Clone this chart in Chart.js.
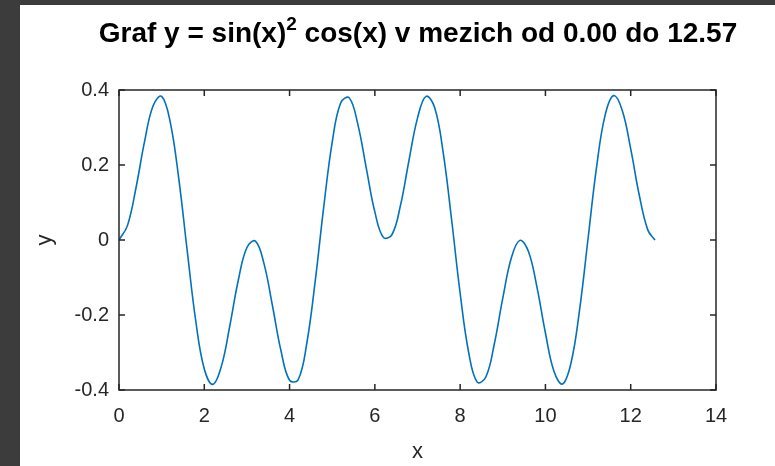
<!DOCTYPE html>
<html>
<head>
<meta charset="utf-8">
<script src="https://cdn.jsdelivr.net/npm/chart.js@4.4.1/dist/chart.umd.min.js"></script>
<style>
    html, body { margin: 0; padding: 0; }
    body { width: 775px; height: 466px; background: #3c3c3c; position: relative; overflow: hidden; }
    #papir { position: absolute; left: 20px; top: 5px; right: 0; bottom: 0; background: #fff; }
    #obal { position: absolute; left: 0; top: 0; width: 775px; height: 466px; }
    #nadpis {
        position: absolute; left: 418px; top: 17px; transform: translateX(-50%);
        white-space: nowrap; font-family: "Liberation Sans", Arial, sans-serif;
        font-weight: bold; font-size: 28px; line-height: 32px; color: #000;
    }
    #nadpis sup { font-size: 19px; line-height: 0; position: relative; top: -2px; }
</style>
</head>
<body>
<div id="papir"></div>
<div id="obal"><canvas id="graf" width="775" height="466"></canvas></div>
<div id="nadpis">Graf y = sin(x)<sup>2</sup> cos(x) v mezich od 0.00 do 12.57</div>
<script>
// Hodnoty (x, y)
const hodnotyX = [0, 0.2, 0.4, 0.6, 0.8, 1.0, 1.2, 1.4, 1.6, 1.8,
    2.0, 2.2, 2.4, 2.6, 2.8, 3.0, 3.2, 3.4, 3.6, 3.8,
    4.0, 4.2, 4.4, 4.6, 4.8, 5.0, 5.2, 5.4, 5.6, 5.8,
    6.0, 6.2, 6.4, 6.6, 6.8, 7.0, 7.2, 7.4, 7.6, 7.8,
    8.0, 8.2, 8.4, 8.6, 8.8, 9.0, 9.2, 9.4, 9.6, 9.8,
    10.0, 10.2, 10.4, 10.6, 10.8, 11.0, 11.2, 11.4, 11.6, 11.8,
    12.0, 12.2, 12.4, 12.57];
const hodnotyY = [0, 0.039, 0.140, 0.263, 0.358, 0.383, 0.315, 0.165, -0.029, -0.216,
    -0.344, -0.385, -0.337, -0.228, -0.106, -0.020, -0.003, -0.063, -0.176, -0.296,
    -0.374, -0.373, -0.278, -0.111, 0.087, 0.261, 0.366, 0.379, 0.309, 0.191,
    0.075, 0.007, 0.014, 0.092, 0.212, 0.325, 0.383, 0.354, 0.235, 0.054,
    -0.142, -0.300, -0.379, -0.366, -0.278, -0.155, -0.048, -0.001, -0.030, -0.125,
    -0.248, -0.350, -0.384, -0.328, -0.187, 0.004, 0.195, 0.333, 0.385, 0.346,
    0.243, 0.120, 0.027, 0];

const znackyX = [0, 2, 4, 6, 8, 10, 12, 14];
const znackyY = [-0.4, -0.2, 0, 0.2, 0.4];

const barvaOsy = '#262626';
const pismo = '"Liberation Sans", Arial, sans-serif';

// Rámeček a značky dovnitř (jako v MATLABu)
const ramecek = {
    id: 'ramecek',
    afterDraw(chart) {
        const { ctx, chartArea: a, scales } = chart;
        const delka = 6;
        ctx.save();
        ctx.strokeStyle = barvaOsy;
        ctx.lineWidth = 1.5;
        ctx.beginPath();
        znackyX.forEach(v => {
            const px = scales.x.getPixelForValue(v);
            ctx.moveTo(px, a.bottom); ctx.lineTo(px, a.bottom - delka);
            ctx.moveTo(px, a.top); ctx.lineTo(px, a.top + delka);
        });
        znackyY.forEach(v => {
            const py = scales.y.getPixelForValue(v);
            ctx.moveTo(a.left, py); ctx.lineTo(a.left + delka, py);
            ctx.moveTo(a.right, py); ctx.lineTo(a.right - delka, py);
        });
        ctx.stroke();
        ctx.strokeRect(a.left, a.top, a.right - a.left, a.bottom - a.top);
        ctx.restore();
    }
};

const ctx = document.getElementById('graf').getContext('2d');
new Chart(ctx, {
    type: 'line',
    data: {
        datasets: [{
            data: hodnotyX.map((x, i) => ({ x: x, y: hodnotyY[i] })),
            borderColor: '#0072BD',
            borderWidth: 1.6,
            pointRadius: 0,
            fill: false,
            tension: 0.4
        }]
    },
    options: {
        responsive: false,
        animation: false,
        layout: { padding: { top: 90, right: 59, left: 0, bottom: 0 } },
        plugins: {
            legend: { display: false },
            tooltip: { enabled: false }
        },
        scales: {
            x: {
                type: 'linear',
                min: 0,
                max: 14,
                afterFit: s => { s.height = 76; },
                afterBuildTicks: s => { s.ticks = znackyX.map(v => ({ value: v })); },
                grid: { display: false, drawTicks: false },
                border: { display: false },
                ticks: { color: barvaOsy, font: { family: pismo, size: 20 }, padding: 14, maxRotation: 0 },
                title: { display: true, text: 'x', color: barvaOsy, font: { family: pismo, size: 22 }, padding: { top: 0, bottom: 1 } }
            },
            y: {
                type: 'linear',
                min: -0.4,
                max: 0.4,
                afterFit: s => { s.width = 119; },
                afterBuildTicks: s => { s.ticks = znackyY.map(v => ({ value: v })); },
                grid: { display: false, drawTicks: false },
                border: { display: false },
                ticks: {
                    color: barvaOsy,
                    font: { family: pismo, size: 20 },
                    padding: 10,
                    callback: v => String(+v.toFixed(1))
                },
                title: { display: true, text: 'y', color: barvaOsy, font: { family: pismo, size: 22 }, padding: { top: 32, bottom: 0 } }
            }
        }
    },
    plugins: [ramecek]
});
</script>
</body>
</html>
